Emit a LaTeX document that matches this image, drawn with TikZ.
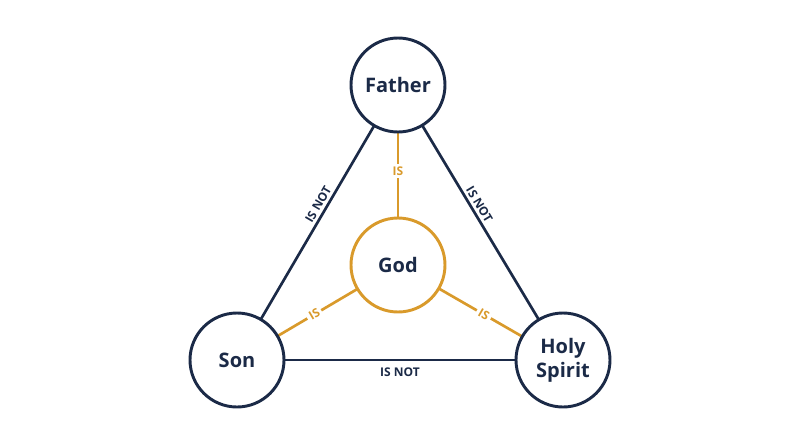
\documentclass[tikz,border=0pt]{standalone}
\usepackage{fontspec}
\setmainfont{Open Sans}
\definecolor{navy}{HTML}{1B2A47}
\definecolor{gold}{HTML}{D99A2B}
\begin{document}
\begin{tikzpicture}[x=0.75pt,y=-0.75pt,
  person/.style={circle,draw=navy,line width=2.2pt,fill=white,minimum size=70.5pt,inner sep=0pt,align=center,text=navy,font=\bfseries\fontsize{15}{18}\selectfont},
  god/.style={person,draw=gold},
  isnot/.style={draw=navy,line width=2pt},
  is/.style={draw=gold,line width=2pt},
  nl/.style={text=navy,font=\bfseries\fontsize{9}{10}\selectfont,inner sep=2pt},
  il/.style={text=gold,font=\bfseries\fontsize{9}{10}\selectfont,fill=white,inner sep=2pt}]
\useasboundingbox (0,0) rectangle (800,447);
\coordinate (cf) at (398,85);
\coordinate (cs) at (237,360);
\coordinate (ch) at (563,360);
\coordinate (cg) at (398,265);
\draw[isnot] (cf) -- (cs) node[nl,pos=0.45,sloped,above]{IS NOT};
\draw[isnot] (cf) -- (ch) node[nl,pos=0.45,sloped,above]{IS NOT};
\draw[isnot] (cs) -- (ch) node[nl,midway,below=3pt]{IS NOT};
\draw[is] (cg) -- (cf) node[il,pos=0.52]{IS};
\draw[is] (cg) -- (cs) node[il,pos=0.52,sloped]{IS};
\draw[is] (cg) -- (ch) node[il,pos=0.52,sloped]{IS};
\node[person] (f) at (cf) {Father};
\node[person] (s) at (cs) {Son};
\node[person] (h) at (ch) {Holy\\Spirit};
\node[god] (g) at (cg) {God};
\end{tikzpicture}
\end{document}
